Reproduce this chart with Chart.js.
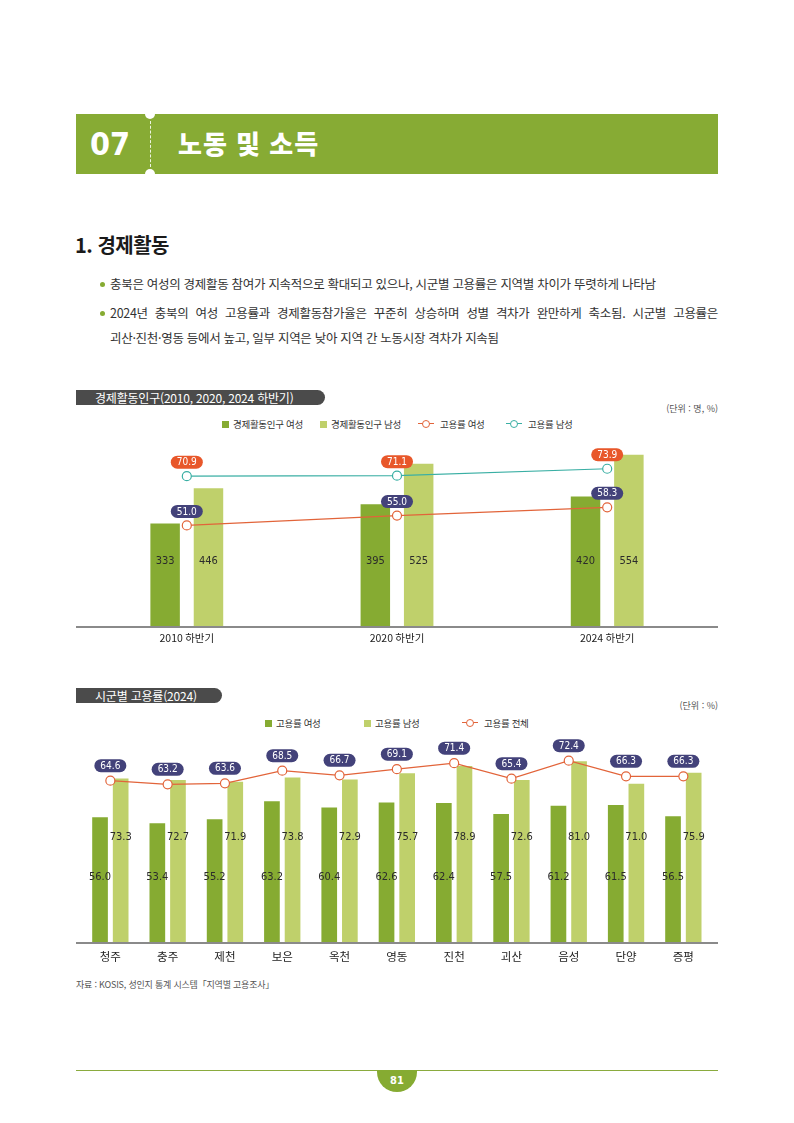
<!DOCTYPE html>
<html lang="ko">
<head>
<meta charset="utf-8">
<script src="https://cdn.jsdelivr.net/npm/chart.js@4.4.1/dist/chart.umd.min.js"></script>
<style>
  html,body{margin:0;padding:0}
  body{width:794px;height:1123px;position:relative;background:#fff;overflow:hidden;
       font-family:"Noto Sans CJK KR","Noto Sans",sans-serif;color:#222}
  .abs{position:absolute;white-space:nowrap}
  .band{left:76px;top:114px;width:642px;height:60px;background:#87ab34}
  .notch{width:10px;height:10px;border-radius:50%;background:#fff}
  .dash{left:150px;top:121px;height:46px;border-left:1px dashed rgba(255,255,255,.85)}
  .num07{left:90px;top:114px;height:60px;line-height:60px;font-size:32px;font-weight:700;color:#fff;
         font-family:"DejaVu Sans Condensed","DejaVu Sans",sans-serif;font-stretch:condensed}
  .ttl{left:178px;top:114px;height:60px;line-height:58px;font-size:26px;font-weight:900;color:#fff;letter-spacing:1px}
  .h1{left:75px;top:230px;line-height:30px;font-size:20px;font-weight:700;color:#1a1a1a;letter-spacing:-0.5px}
  .bl{font-size:12.5px;line-height:20px;color:#333;letter-spacing:-0.3px}
  .dot{width:5px;height:5px;border-radius:50%;background:#86ab32}
  .pill{left:76px;height:15px;line-height:15px;background:#4b4b4b;color:#fff;font-size:12px;
        padding-left:19px;box-sizing:border-box;border-radius:0 8px 8px 0;letter-spacing:-0.2px}
  .unit{right:76px;font-size:9px;color:#555;line-height:12px}
  .lg{font-size:9.5px;line-height:12px;color:#333;letter-spacing:-0.3px}
  .sq{width:7px;height:7px}
  .lm{width:16px;height:0;border-top:1.2px solid}
  .lc{width:6px;height:6px;border-radius:50%;background:#fff;border:1.2px solid}
  .src{left:76px;top:979px;font-size:9px;line-height:12px;color:#555;letter-spacing:-0.2px}
  .fline{left:76px;top:1070px;width:642px;height:1px;background:#8aab3e}
  .fcirc{left:377px;top:1070px;width:40px;height:22px;background:#86ab32;border-radius:0 0 20px 20px;
         color:#fff;font-size:11px;font-weight:700;text-align:center;line-height:22px;
         font-family:"DejaVu Sans Condensed","DejaVu Sans",sans-serif;font-stretch:condensed}
</style>
</head>
<body>
<!-- Header band -->
<div class="abs band"></div>
<div class="abs notch" style="left:145px;top:109px"></div>
<div class="abs notch" style="left:145px;top:169px"></div>
<div class="abs dash"></div>
<div class="abs num07">07</div>
<div class="abs ttl">노동 및 소득</div>

<div class="abs h1">1. 경제활동</div>

<div class="abs dot" style="left:100px;top:282px"></div>
<div class="abs bl" style="left:110px;top:274px">충북은 여성의 경제활동 참여가 지속적으로 확대되고 있으나, 시군별 고용률은 지역별 차이가 뚜렷하게 나타남</div>
<div class="abs dot" style="left:100px;top:311px"></div>
<div class="abs bl" style="left:110px;top:303px;width:608px;white-space:normal;text-align:justify;text-align-last:justify">2024년 충북의 여성 고용률과 경제활동참가율은 꾸준히 상승하며 성별 격차가 완만하게 축소됨. 시군별 고용률은</div>
<div class="abs bl" style="left:110px;top:328px">괴산·진천·영동 등에서 높고, 일부 지역은 낮아 지역 간 노동시장 격차가 지속됨</div>

<!-- Chart 1 header -->
<div class="abs pill" style="top:390px;width:249px">경제활동인구(2010, 2020, 2024 하반기)</div>
<div class="abs unit" style="top:403px">(단위 : 명, %)</div>
<div id="lg1"></div>
<div class="abs" style="left:76px;top:440px;width:642px;height:215px"><canvas id="c1"></canvas></div>

<!-- Chart 2 header -->
<div class="abs pill" style="top:688px;width:146px">시군별 고용률(2024)</div>
<div class="abs unit" style="top:700px">(단위 : %)</div>
<div id="lg2"></div>
<div class="abs" style="left:76px;top:730px;width:642px;height:240px"><canvas id="c2"></canvas></div>

<div class="abs src">자료 : KOSIS, 성인지 통계 시스템「지역별 고용조사」</div>

<div class="abs fline"></div>
<div class="abs fcirc">81</div>

<script>
// ---------- DATA ----------
const years = ['2010 하반기', '2020 하반기', '2024 하반기'];
const popFemale = [333, 395, 420];
const popMale = [446, 525, 554];
const empFemale = [51.0, 55.0, 58.3];
const empMale = [70.9, 71.1, 73.9];
const seriesNames1 = ['경제활동인구 여성', '경제활동인구 남성', '고용률 여성', '고용률 남성'];

const regions = ['청주', '충주', '제천', '보은', '옥천', '영동', '진천', '괴산', '음성', '단양', '증평'];
const regFemale = [56.0, 53.4, 55.2, 63.2, 60.4, 62.6, 62.4, 57.5, 61.2, 61.5, 56.5];
const regMale = [73.3, 72.7, 71.9, 73.8, 72.9, 75.7, 78.9, 72.6, 81.0, 71.0, 75.9];
const regTotal = [64.6, 63.2, 63.6, 68.5, 66.7, 69.1, 71.4, 65.4, 72.4, 66.3, 66.3];
const seriesNames2 = ['고용률 여성', '고용률 남성', '고용률 전체'];

// ---------- STYLE ----------
const C_DARK = '#86ab32', C_LIGHT = '#bfd06b', C_ORANGE = '#e2643a', C_TEAL = '#3aafa4';
const PILL_NAVY = '#43427a', PILL_ORANGE = '#e8572a';
const KR = '"Noto Sans CJK KR", "Noto Sans", sans-serif';
const NUM = '"DejaVu Sans Condensed", "DejaVu Sans", "Liberation Sans Narrow", sans-serif';

// ---------- LEGENDS (HTML) ----------
function legend(id, y, items) {
  const host = document.getElementById(id);
  items.forEach(it => {
    if (it.kind === 'sq') {
      host.insertAdjacentHTML('beforeend',
        `<div class="abs sq" style="left:${it.x}px;top:${y - 3.5}px;background:${it.color}"></div>`);
    } else {
      host.insertAdjacentHTML('beforeend',
        `<div class="abs lm" style="left:${it.x}px;top:${y - 0.6}px;border-color:${it.color}"></div>` +
        `<div class="abs lc" style="left:${it.x + 4}px;top:${y - 4.2}px;border-color:${it.color}"></div>`);
    }
    host.insertAdjacentHTML('beforeend',
      `<div class="abs lg" style="left:${it.tx}px;top:${y - 6.5}px">${it.label}</div>`);
  });
}
legend('lg1', 424, [
  {kind: 'sq', x: 222, tx: 233, color: C_DARK, label: seriesNames1[0]},
  {kind: 'sq', x: 320, tx: 331, color: C_LIGHT, label: seriesNames1[1]},
  {kind: 'ln', x: 418, tx: 440, color: C_ORANGE, label: seriesNames1[2]},
  {kind: 'ln', x: 506, tx: 528, color: C_TEAL, label: seriesNames1[3]}
]);
legend('lg2', 723, [
  {kind: 'sq', x: 265, tx: 276, color: C_DARK, label: seriesNames2[0]},
  {kind: 'sq', x: 364, tx: 375, color: C_LIGHT, label: seriesNames2[1]},
  {kind: 'ln', x: 462, tx: 484, color: C_ORANGE, label: seriesNames2[2]}
]);

// ---------- PLUGINS ----------
const baseLine = {
  id: 'baseLine',
  afterDatasetsDraw(chart) {
    const ctx = chart.ctx, a = chart.chartArea;
    ctx.save();
    ctx.strokeStyle = '#8a8a8a';
    ctx.lineWidth = 2;
    ctx.beginPath();
    ctx.moveTo(0, a.bottom);
    ctx.lineTo(chart.width, a.bottom);
    ctx.stroke();
    ctx.restore();
  }
};

const valueLabels = {
  id: 'valueLabels',
  afterDraw(chart) {
    const ctx = chart.ctx, a = chart.chartArea;
    chart.data.datasets.forEach((ds, i) => {
      const lab = ds.lbl;
      if (!lab) return;
      const meta = chart.getDatasetMeta(i);
      meta.data.forEach((el, j) => {
        const v = ds.data[j];
        const txt = lab.dec ? v.toFixed(1) : String(v);
        ctx.save();
        ctx.font = lab.font;
        try { ctx.fontStretch = 'condensed'; } catch (e) {}
        ctx.textAlign = 'center';
        ctx.textBaseline = 'middle';
        if (lab.type === 'bar') {
          ctx.fillStyle = '#2b2b2b';
          ctx.fillText(txt, el.x, a.bottom - lab.rise);
        } else {
          const tw = ctx.measureText(txt).width;
          const w = Math.max(30, tw + 12), h = 13;
          const cx = el.x, cy = el.y - lab.rise;
          ctx.fillStyle = lab.bg;
          ctx.beginPath();
          ctx.roundRect(cx - w / 2, cy - h / 2, w, h, h / 2);
          ctx.fill();
          ctx.fillStyle = '#fff';
          ctx.fillText(txt, cx, cy + 0.5);
        }
        ctx.restore();
      });
    });
  }
};

function lineDs(label, data, color, pillBg, rise) {
  return {
    type: 'line', label, data, yAxisID: 'y2', order: 0,
    borderColor: color, borderWidth: 1.2,
    pointRadius: 4.5, pointHoverRadius: 4.5, pointBackgroundColor: '#fff',
    pointBorderColor: color, pointBorderWidth: 1.2, tension: 0,
    lbl: {type: 'pill', bg: pillBg, rise, dec: true, font: `10px ${NUM}`}
  };
}
function barDs(label, data, color, bp, cp, rise, dec) {
  return {
    type: 'bar', label, data, yAxisID: 'y', order: 1,
    backgroundColor: color, barPercentage: bp, categoryPercentage: cp,
    lbl: {type: 'bar', rise, dec, font: `11px ${NUM}`}
  };
}

const xScale = (pad, h, size) => ({
  grid: {display: false}, border: {display: false},
  ticks: {color: '#222', font: {family: KR, size}, padding: pad, maxRotation: 0, autoSkip: false},
  afterFit(s) { s.height = h; }
});

// ---------- CHART 1 ----------
new Chart(document.getElementById('c1'), {
  type: 'bar',
  data: {
    labels: years,
    datasets: [
      lineDs(seriesNames1[2], empFemale, C_ORANGE, PILL_NAVY, 14),
      lineDs(seriesNames1[3], empMale, C_TEAL, PILL_ORANGE, 14),
      barDs(seriesNames1[0], popFemale, C_DARK, 0.68, 0.4125, 65.5, false),
      barDs(seriesNames1[1], popMale, C_LIGHT, 0.68, 0.4125, 65.5, false)
    ]
  },
  options: {
    responsive: true, maintainAspectRatio: false, animation: false,
    layout: {padding: {left: 2, right: 0, top: 5, bottom: 0}},
    plugins: {legend: {display: false}, tooltip: {enabled: false}},
    scales: {
      x: xScale(-3, 28, 10.5),
      y: {display: false, min: 0, max: 583},
      y2: {display: false, min: 10, max: 83.2}
    }
  },
  plugins: [baseLine, valueLabels]
});

// ---------- CHART 2 ----------
new Chart(document.getElementById('c2'), {
  type: 'bar',
  data: {
    labels: regions,
    datasets: [
      lineDs(seriesNames2[2], regTotal, C_ORANGE, PILL_NAVY, 15),
      barDs(seriesNames2[0], regFemale, C_DARK, 0.76, 0.72, 66, true),
      barDs(seriesNames2[1], regMale, C_LIGHT, 0.76, 0.72, 106, true)
    ]
  },
  options: {
    responsive: true, maintainAspectRatio: false, animation: false,
    layout: {padding: {left: 5, right: 6, top: 5, bottom: 0}},
    plugins: {legend: {display: false}, tooltip: {enabled: false}},
    scales: {
      x: xScale(-1, 27, 11.5),
      y: {display: false, min: 0, max: 92.4},
      y2: {display: false, min: 1.5, max: 82.1}
    }
  },
  plugins: [baseLine, valueLabels]
});
</script>
</body>
</html>
